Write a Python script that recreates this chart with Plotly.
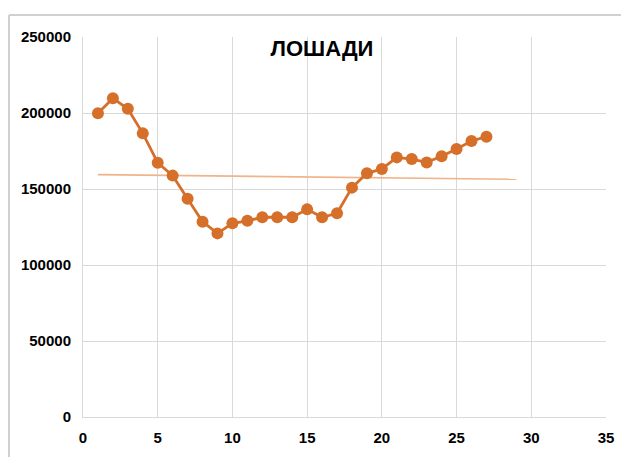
import numpy as np
import plotly.graph_objects as go

x_vals = list(range(1, 28))
horses = [199800, 209700, 202800, 186600, 167300, 158800, 143600, 128500, 120800,
          127400, 129100, 131400, 131400, 131400, 136600, 131400, 134000, 150900,
          160300, 163200, 170800, 169700, 167500, 171500, 176300, 181600, 184400]
trend_x = [1, 29]
title_text = "ЛОШАДИ"
x_ticks = [0, 5, 10, 15, 20, 25, 30, 35]
y_ticks = [0, 50000, 100000, 150000, 200000, 250000]
y_tick_labels = ["0", "50000", "100000", "150000", "200000", "250000"]

coef = np.polyfit(x_vals, horses, 1)
trend_y = [float(np.polyval(coef, t)) for t in trend_x]

fig = go.Figure()
fig.add_trace(go.Scatter(x=trend_x, y=trend_y, mode="lines",
                         line=dict(color="#F0B48A", width=1.6),
                         hoverinfo="skip", showlegend=False))
fig.add_trace(go.Scatter(x=x_vals, y=horses, mode="lines+markers",
                         line=dict(color="#D56F2A", width=2.8),
                         marker=dict(color="#D56F2A", size=12),
                         showlegend=False))

font_fam = "Liberation Sans, Arial, sans-serif"
# page content is offset by the browser's 8px body margin
px_x = lambda p: (p - 83) / 523
px_y = lambda p: (417 - p) / 380
fig.update_layout(
    width=629, height=457,
    margin=dict(l=75, r=31, t=29, b=48, autoexpand=False),
    paper_bgcolor="white", plot_bgcolor="white",
    title=dict(text=title_text, x=314/629, xanchor="center",
               y=1-40/457, yanchor="middle", yref="container",
               font=dict(family=font_fam, size=22, color="black", weight="bold")),
    xaxis=dict(range=[0, 35], tickvals=x_ticks, showgrid=True,
               gridcolor="#D9D9D9", gridwidth=1, zeroline=False,
               showline=True, linecolor="#D9D9D9", linewidth=1,
               ticks="", ticklen=0, ticklabelstandoff=7,
               tickfont=dict(family=font_fam, size=15, color="black", weight="bold")),
    yaxis=dict(range=[0, 250000], tickvals=y_ticks, ticktext=y_tick_labels,
               showgrid=True,
               gridcolor="#D9D9D9", gridwidth=1, zeroline=False,
               showline=True, linecolor="#D9D9D9", linewidth=1,
               ticks="", ticklen=0, ticklabelstandoff=8,
               tickfont=dict(family=font_fam, size=15, color="black", weight="bold")),
    shapes=[
        dict(type="line", xref="paper", yref="paper",
             x0=px_x(9), x1=px_x(640), y0=px_y(15), y1=px_y(15),
             line=dict(color="#D0D0D0", width=2), layer="above"),
        dict(type="line", xref="paper", yref="paper",
             x0=px_x(9), x1=px_x(9), y0=px_y(15), y1=px_y(470),
             line=dict(color="#D0D0D0", width=2), layer="above"),
    ],
)

fig.write_html("out.html")
